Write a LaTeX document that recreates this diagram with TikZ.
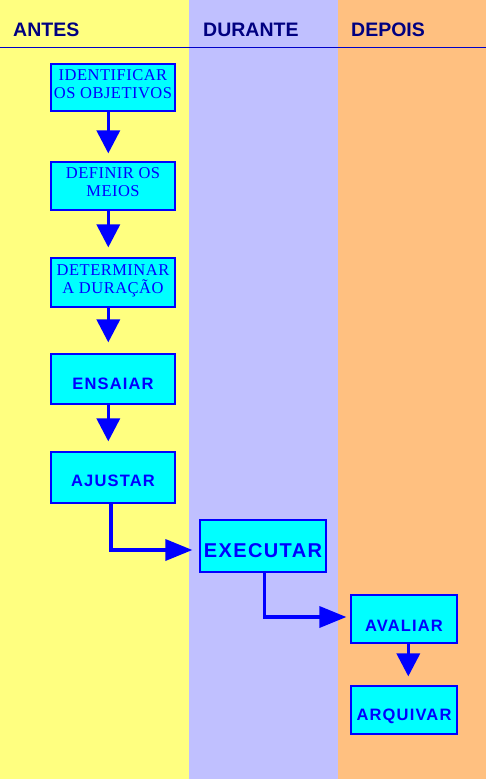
\documentclass[tikz,border=0pt]{standalone}
\usepackage{fontspec}
\setmainfont{Liberation Serif}
\newfontfamily\boxserif[LetterSpace=3]{Liberation Serif}
\newfontfamily\boxsans[LetterSpace=7]{Liberation Sans}
\newfontfamily\headsans{Liberation Sans}
\usetikzlibrary{arrows.meta}
\definecolor{antes}{HTML}{FFFF80}
\definecolor{durante}{HTML}{C0C0FF}
\definecolor{depois}{HTML}{FFC080}
\definecolor{boxfill}{HTML}{00FFFF}
\definecolor{boxline}{HTML}{0000FF}
\definecolor{headcol}{HTML}{000080}
\definecolor{rulecol}{HTML}{0000C8}
\tikzset{
  stepbox/.style={draw=boxline, line width=1.2pt, fill=boxfill, inner sep=0pt},
  seriftext/.style={text=boxline, inner sep=0pt, align=center, font=\boxserif\fontsize{16.5}{18}\selectfont},
  sanstext/.style={text=boxline, inner sep=0pt, font=\boxsans\bfseries\fontsize{16.5}{18}\selectfont},
  bigtext/.style={text=boxline, inner sep=0pt, font=\boxsans\bfseries\fontsize{20}{22}\selectfont},
  head/.style={anchor=base west, text=headcol, inner sep=0pt, font=\headsans\bfseries\fontsize{19.5}{20}\selectfont},
  flow/.style={draw=boxline, line width=3.5pt, -{Triangle[width=23pt,length=23pt]}},
  hflow/.style={draw=boxline, line width=3.5pt, -{Triangle[width=21pt,length=27pt]}}
}
\begin{document}
\begin{tikzpicture}[x=1pt,y=-1pt]
\useasboundingbox (0,0) rectangle (486,779);
% lanes
\fill[antes] (0,0) rectangle (189,779);
\fill[durante] (189,0) rectangle (338,779);
\fill[depois] (338,0) rectangle (486,779);
\draw[rulecol, line width=1pt] (0,47) -- (486,47);
% headers
\node[head] (hA) at (13,36) {ANTES};
\node[head] (hD) at (203,36) {DURANTE};
\node[head] (hP) at (351,36) {DEPOIS};
% boxes
\node[stepbox, minimum width=124pt, minimum height=47pt,
  label={[seriftext, yshift=3pt]center:{IDENTIFICAR\\OS OBJETIVOS}}] (b1) at (113,87.5) {};
\node[stepbox, minimum width=124pt, minimum height=48pt,
  label={[seriftext, yshift=3.5pt]center:{DEFINIR OS\\MEIOS}}] (b2) at (113,186) {};
\node[stepbox, minimum width=124pt, minimum height=49pt,
  label={[seriftext, yshift=1.5pt]center:{DETERMINAR\\A DURAÇÃO}}] (b3) at (113,282.5) {};
\node[stepbox, minimum width=124pt, minimum height=50pt,
  label={[sanstext, yshift=-5pt]center:ENSAIAR}] (b4) at (113,379) {};
\node[stepbox, minimum width=124pt, minimum height=51pt,
  label={[sanstext, yshift=-3.5pt]center:AJUSTAR}] (b5) at (113,477.5) {};
\node[stepbox, minimum width=126pt, minimum height=52pt,
  label={[bigtext, yshift=-5pt]center:EXECUTAR}] (b6) at (263,546) {};
\node[stepbox, minimum width=106pt, minimum height=48pt,
  label={[sanstext, yshift=-7pt]center:AVALIAR}] (b7) at (404,619) {};
\node[stepbox, minimum width=106pt, minimum height=48pt,
  label={[sanstext, yshift=-6pt]center:ARQUIVAR}] (b8) at (404,710) {};
% connectors
\draw[flow, shorten >=8pt] ([xshift=-4.7pt]b1.south) -- ([xshift=-4.7pt]b2.north);
\draw[flow, shorten >=10pt] ([xshift=-4.7pt]b2.south) -- ([xshift=-4.7pt]b3.north);
\draw[flow, shorten >=11pt] ([xshift=-4.7pt]b3.south) -- ([xshift=-4.7pt]b4.north);
\draw[flow, shorten >=10pt] ([xshift=-4.7pt]b4.south) -- ([xshift=-4.7pt]b5.north);
\draw[hflow, shorten >=7pt] ([xshift=-2pt]b5.south) |- ([yshift=-4pt]b6.west);
\draw[hflow, shorten >=4pt] ([xshift=1.3pt]b6.south) |- ([yshift=2pt]b7.west);
\draw[flow, shorten >=9pt] ([xshift=4.3pt]b7.south) -- ([xshift=4.3pt]b8.north);
\end{tikzpicture}
\end{document}
